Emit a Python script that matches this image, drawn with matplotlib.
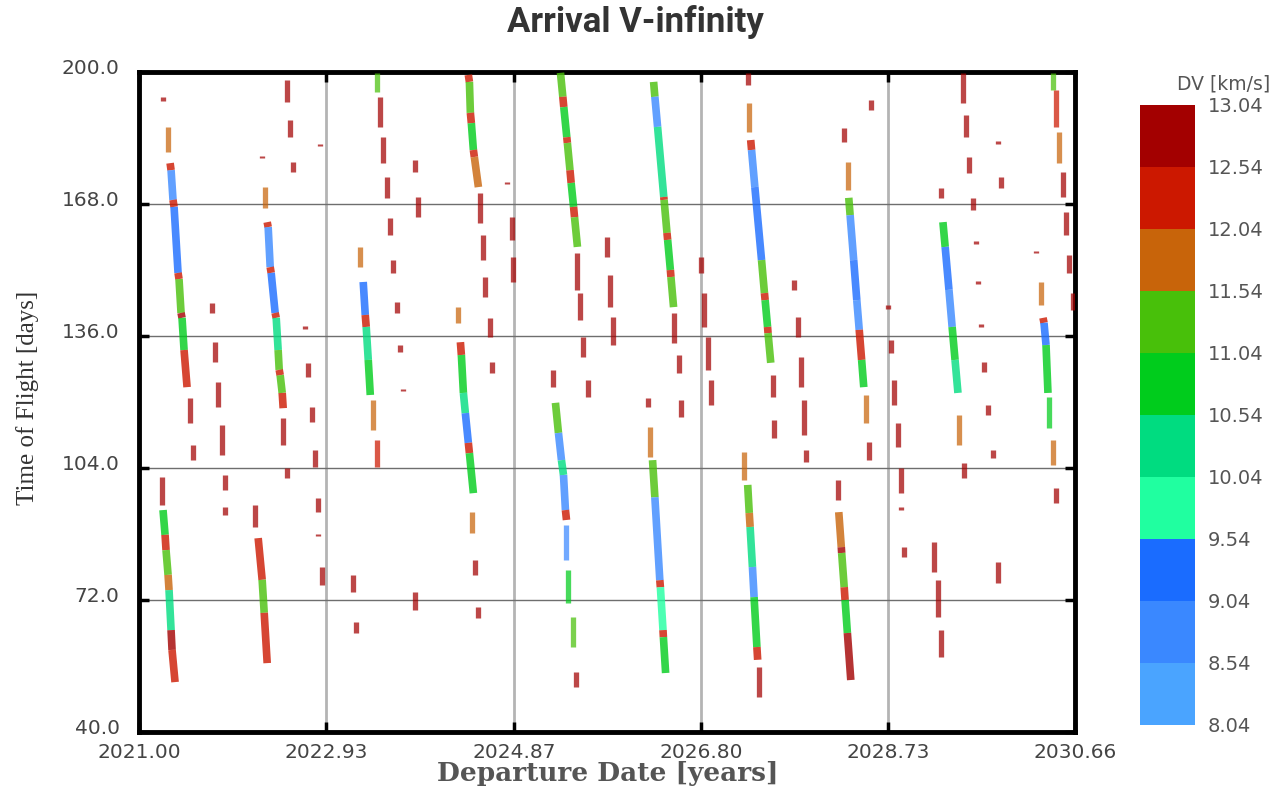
import matplotlib.pyplot as plt
import numpy as np
from matplotlib.collections import LineCollection
from matplotlib.colors import ListedColormap, BoundaryNorm
from matplotlib.cm import ScalarMappable
from matplotlib.transforms import ScaledTranslation


# colour scale of the DV values
dv_levels = [8.04, 8.54, 9.04, 9.54, 10.04, 10.54, 11.04, 11.54, 12.04, 12.54, 13.04]
dv_colors = ['#4aa4ff', '#3a88ff', '#1a6cff', '#20ffa0', '#00dc80',
             '#00cc1c', '#48c00a', '#c8640a', '#cc1800', '#a30000']

x_ticks = [2021.00, 2022.93, 2024.87, 2026.80, 2028.73, 2030.66]
y_ticks = [40.0, 72.0, 104.0, 136.0, 168.0, 200.0]

# continuous coloured bands: nodes (departure, tof) and one DV per piece
streak_dep = [
    [2021.321, 2021.331, 2021.351, 2021.362, 2021.403, 2021.413, 2021.434, 2021.444, 2021.465, 2021.496],
    [2021.248, 2021.269, 2021.279, 2021.300, 2021.310, 2021.331, 2021.341, 2021.372],
    [2022.323, 2022.333, 2022.354, 2022.364, 2022.405, 2022.416, 2022.436, 2022.447, 2022.457, 2022.478, 2022.488],
    [2022.230, 2022.271, 2022.292, 2022.323],
    [2023.314, 2023.335, 2023.345, 2023.366, 2023.387],
    [2024.399, 2024.410, 2024.420, 2024.430, 2024.451, 2024.461, 2024.503],
    [2024.317, 2024.327, 2024.348, 2024.368, 2024.399, 2024.410, 2024.451],
    [2025.350, 2025.374, 2025.384, 2025.415, 2025.421, 2025.448, 2025.460, 2025.485, 2025.495, 2025.525],
    [2025.298, 2025.329, 2025.360, 2025.381, 2025.401, 2025.412],
    [2026.311, 2026.324, 2026.352, 2026.416, 2026.419, 2026.449, 2026.456, 2026.484, 2026.490, 2026.517],
    [2026.300, 2026.324, 2026.375, 2026.381, 2026.408, 2026.412, 2026.435],
    [2027.313, 2027.322, 2027.356, 2027.425, 2027.455, 2027.462, 2027.487, 2027.492, 2027.520],
    [2027.282, 2027.298, 2027.307, 2027.331, 2027.348, 2027.377, 2027.385],
    [2028.325, 2028.339, 2028.376, 2028.408, 2028.433, 2028.458, 2028.480],
    [2028.222, 2028.248, 2028.252, 2028.278, 2028.287, 2028.311, 2028.346],
    [2029.297, 2029.320, 2029.359, 2029.392, 2029.422, 2029.452],
    [2030.330, 2030.340, 2030.361, 2030.381],
]
streak_tof = [
    [177.9, 176.2, 169.0, 167.3, 151.3, 149.8, 141.6, 140.4, 132.6, 123.6],
    [93.8, 87.8, 84.1, 78.1, 74.4, 64.7, 59.9, 52.1],
    [163.6, 162.4, 152.7, 151.3, 141.6, 140.4, 132.6, 127.8, 126.5, 122.2, 118.5],
    [87.0, 76.9, 68.9, 56.7],
    [149.1, 141.1, 138.2, 130.2, 121.7],
    [199.3, 197.6, 190.1, 187.6, 181.1, 179.4, 172.1],
    [134.5, 131.4, 122.2, 117.3, 110.1, 107.6, 97.9],
    [199.8, 194.0, 191.5, 184.2, 182.8, 176.2, 173.1, 167.3, 164.8, 157.6],
    [119.8, 112.5, 105.9, 102.3, 93.8, 91.4],
    [197.6, 194.0, 186.7, 169.7, 169.0, 161.0, 159.3, 152.0, 150.3, 143.0],
    [105.9, 96.9, 76.8, 75.1, 64.7, 63.0, 54.3],
    [183.5, 181.1, 172.1, 154.4, 146.4, 144.7, 138.2, 136.7, 129.5],
    [99.9, 93.1, 89.7, 80.0, 72.7, 60.6, 57.5],
    [169.5, 165.3, 154.4, 144.7, 137.5, 130.2, 123.6],
    [93.3, 84.8, 83.4, 75.1, 72.0, 64.0, 52.6],
    [163.6, 157.6, 147.2, 138.2, 130.2, 122.2],
    [140.4, 139.2, 133.8, 122.2],
]
streak_dv = [
    [12.3, 8.8, 12.3, 9.3, 12.3, 11.3, 12.8, 10.8, 12.3],
    [10.8, 12.3, 11.3, 11.8, 10.3, 12.8, 12.3],
    [12.3, 8.8, 12.3, 9.3, 12.3, 10.3, 11.3, 12.3, 11.3, 12.3],
    [12.3, 11.3, 12.5],
    [9.3, 12.3, 10.3, 10.8],
    [12.3, 11.3, 12.3, 10.8, 12.3, 11.6],
    [12.3, 10.8, 10.3, 9.3, 12.3, 11.0],
    [11.3, 12.3, 10.8, 12.3, 11.3, 12.3, 10.8, 12.3, 11.3],
    [11.3, 8.8, 10.3, 8.8, 12.3],
    [11.3, 8.8, 10.3, 12.3, 11.3, 12.3, 10.8, 12.3, 11.3],
    [11.3, 8.8, 12.3, 9.8, 12.3, 11.0],
    [12.3, 8.8, 9.3, 11.3, 12.3, 10.8, 12.3, 11.3],
    [11.3, 11.8, 10.3, 8.8, 10.8, 12.3],
    [11.3, 8.8, 9.3, 8.8, 12.3, 10.8],
    [12.0, 12.6, 11.3, 12.3, 11.0, 12.6],
    [11.0, 9.3, 8.8, 10.8, 10.3],
    [12.3, 9.3, 10.8],
]

# isolated short dashes: departure, tof top, tof bottom, DV
dash_dep = [
    2021.248, 2021.238, 2021.300, 2021.527, 2021.558, 2021.754, 2021.785, 2021.816, 2021.858, 2021.889,
    2021.889, 2022.199, 2022.271, 2022.302, 2022.529, 2022.560, 2022.591, 2022.488, 2022.529, 2022.870,
    2022.715, 2022.746, 2022.787, 2022.818, 2022.849, 2022.849, 2022.891, 2023.211, 2023.242, 2023.283,
    2023.418, 2023.459, 2023.459, 2023.490, 2023.521, 2023.562, 2023.593, 2023.624, 2023.666, 2023.697,
    2023.728, 2023.852, 2023.883, 2023.852, 2024.296, 2024.441, 2024.472, 2024.503, 2024.523, 2024.554,
    2024.575, 2024.627, 2024.647, 2024.802, 2024.854, 2024.864, 2025.525, 2025.556, 2025.587, 2025.629,
    2025.277, 2025.412, 2025.432, 2025.474, 2025.505, 2025.835, 2025.866, 2025.887, 2026.517, 2026.569,
    2026.249, 2026.270, 2026.590, 2026.796, 2026.827, 2026.869, 2026.900, 2027.282, 2027.292, 2027.540,
    2027.551, 2027.241, 2027.395, 2027.757, 2027.798, 2027.830, 2027.860, 2027.881, 2028.274, 2028.315,
    2028.501, 2028.532, 2028.212, 2028.553, 2028.728, 2028.759, 2028.790, 2028.831, 2028.863, 2028.863,
    2028.894, 2029.276, 2029.462, 2029.514, 2029.204, 2029.245, 2029.276, 2029.503, 2029.534, 2029.565,
    2029.607, 2029.638, 2029.658, 2029.689, 2029.720, 2029.865, 2029.896, 2029.761, 2029.813, 2029.865,
    2030.257, 2030.309, 2030.392, 2030.433, 2030.464, 2030.433, 2030.464, 2030.495, 2030.536, 2030.567,
    2030.598, 2030.640,
]
dash_tof_top = [
    193.9, 101.8, 186.7, 121.0, 109.6, 144.0, 134.5, 124.8, 114.4, 102.3,
    94.5, 95.0, 179.6, 172.1, 198.1, 188.4, 178.2, 116.1, 104.0, 182.6,
    138.5, 129.5, 118.8, 108.4, 96.7, 87.9, 80.0, 78.1, 66.7, 157.6,
    120.5, 110.8, 199.8, 193.9, 184.2, 174.5, 164.6, 154.4, 144.2, 133.8,
    123.1, 178.7, 169.7, 73.9, 143.0, 93.3, 81.7, 70.3, 170.7, 160.5,
    150.3, 140.4, 129.7, 173.3, 164.8, 155.2, 156.1, 146.4, 135.8, 125.3,
    127.8, 90.2, 79.3, 67.9, 54.5, 160.0, 150.8, 140.6, 141.6, 131.4,
    121.0, 113.9, 120.5, 155.2, 146.4, 135.8, 125.3, 199.8, 192.5, 126.5,
    115.6, 107.9, 55.8, 149.6, 140.6, 130.9, 120.5, 108.4, 186.4, 178.2,
    121.7, 110.3, 101.1, 193.2, 143.5, 135.0, 125.3, 114.9, 104.0, 94.6,
    84.8, 171.9, 116.8, 105.2, 86.1, 76.9, 64.7, 199.8, 189.6, 179.4,
    169.5, 159.0, 149.3, 139.0, 129.7, 183.3, 174.5, 119.3, 108.4, 81.2,
    156.6, 149.1, 121.2, 110.8, 99.2, 199.8, 195.6, 185.5, 175.8, 166.1,
    155.6, 146.4,
]
dash_tof_bot = [
    192.9, 95.0, 180.6, 114.9, 105.9, 141.6, 129.7, 118.8, 107.2, 98.7,
    92.6, 89.7, 179.2, 167.0, 192.7, 184.2, 175.8, 109.6, 101.6, 182.0,
    137.7, 126.1, 115.2, 104.2, 93.3, 87.4, 75.6, 73.9, 64.0, 152.7,
    113.2, 104.2, 195.2, 186.7, 177.9, 169.5, 160.5, 151.3, 141.6, 132.1,
    122.6, 175.8, 164.8, 69.6, 139.2, 88.2, 78.1, 67.6, 163.4, 154.4,
    145.5, 135.8, 127.0, 172.8, 159.3, 149.1, 147.2, 139.9, 130.9, 121.2,
    123.6, 81.7, 71.3, 60.6, 50.9, 155.2, 143.0, 133.8, 134.3, 127.0,
    118.8, 106.7, 116.4, 151.3, 138.2, 127.8, 119.3, 196.8, 185.5, 121.2,
    111.3, 101.1, 48.5, 147.2, 135.8, 123.6, 112.0, 105.5, 183.0, 171.4,
    114.9, 105.9, 96.2, 190.8, 142.5, 131.9, 119.3, 109.1, 97.9, 93.8,
    82.4, 169.5, 109.6, 101.6, 78.8, 67.9, 58.2, 192.5, 184.2, 175.5,
    166.5, 158.3, 148.6, 138.3, 127.3, 182.6, 171.9, 116.8, 106.4, 76.1,
    156.1, 143.5, 113.7, 104.7, 95.5, 195.6, 186.7, 177.9, 169.7, 160.5,
    151.3, 142.3,
]
dash_dv = [
    12.8, 12.8, 11.8, 12.8, 12.8, 12.8, 12.8, 12.8, 12.8, 12.8,
    12.8, 12.8, 12.8, 11.6, 12.8, 12.8, 12.8, 12.8, 12.8, 12.8,
    12.8, 12.8, 12.8, 12.8, 12.8, 12.8, 12.8, 12.8, 12.8, 11.8,
    11.6, 12.5, 11.3, 12.8, 12.8, 12.8, 12.8, 12.8, 12.8, 12.8,
    12.8, 12.8, 12.8, 12.8, 11.8, 11.6, 12.6, 12.6, 12.8, 12.8,
    12.8, 12.8, 12.8, 12.8, 12.8, 12.8, 12.8, 12.8, 12.8, 12.8,
    12.6, 9.0, 10.8, 11.3, 12.6, 12.8, 12.8, 12.8, 12.8, 12.8,
    12.8, 11.9, 12.8, 12.8, 12.8, 12.8, 12.8, 12.8, 11.6, 12.8,
    12.8, 11.8, 12.8, 12.8, 12.8, 12.8, 12.8, 12.8, 12.8, 11.6,
    11.8, 12.8, 12.8, 12.8, 12.8, 12.8, 12.8, 12.8, 12.8, 12.8,
    12.8, 12.8, 11.8, 12.8, 12.8, 12.8, 12.8, 12.8, 12.8, 12.8,
    12.8, 12.8, 12.8, 12.8, 12.8, 12.8, 12.8, 12.8, 12.8, 12.8,
    12.8, 11.6, 10.8, 11.9, 12.8, 11.3, 12.2, 11.9, 12.6, 12.6,
    12.8, 12.8,
]

cmap = ListedColormap(dv_colors)
norm = BoundaryNorm(dv_levels, cmap.N)

fig = plt.figure(figsize=(12.84, 7.87), dpi=100)
ax = fig.add_axes([139/1284, 55/787, 936/1284, 660/787])

# coloured bands
segs, seg_dv = [], []
for dep, tof, dv in zip(streak_dep, streak_tof, streak_dv):
    for i in range(len(dv)):
        segs.append([(dep[i], tof[i]), (dep[i+1], tof[i+1])])
        seg_dv.append(dv[i])
ax.add_collection(LineCollection(segs, colors=cmap(norm(seg_dv)), linewidths=5.5,
                                 capstyle='butt', alpha=0.8, zorder=3))

# short dashes
dsegs = [[(d, t0), (d, t1)] for d, t0, t1 in zip(dash_dep, dash_tof_top, dash_tof_bot)]
ax.add_collection(LineCollection(dsegs, colors=cmap(norm(dash_dv)), linewidths=3.8,
                                 capstyle='butt', alpha=0.72, zorder=3))

ax.set_xlim(x_ticks[0], x_ticks[-1])
ax.set_ylim(y_ticks[0], y_ticks[-1])
ax.set_xticks(x_ticks)
ax.set_xticklabels(['%.2f' % t for t in x_ticks])
ax.set_yticks(y_ticks)
ax.set_yticklabels(['%.1f' % t for t in y_ticks])

ax.set_axisbelow(True)
ax.xaxis.grid(True, color='#b4b4b4', linewidth=2)
ax.yaxis.grid(True, color='#6e6e6e', linewidth=1)
for s in ax.spines.values():
    s.set_linewidth(3.5)
    s.set_color('black')
ax.tick_params(direction='in', length=7, width=2.5, top=True, right=True,
               labelsize=14.5, labelcolor='#444444')
ax.tick_params(axis='x', pad=8)
ax.tick_params(axis='y', pad=14)
# y labels sit a little above their tick in the original
for lab in ax.get_yticklabels():
    lab.set_transform(lab.get_transform() + ScaledTranslation(0, 4/72, fig.dpi_scale_trans))

# colour bar
cax = fig.add_axes([1140/1284, 62/787, 55/1284, 620/787])
cb = fig.colorbar(ScalarMappable(norm=norm, cmap=cmap), cax=cax, ticks=dv_levels)
cb.set_ticklabels(['%.2f' % v for v in dv_levels])
cb.outline.set_visible(False)
cax.tick_params(length=0, labelsize=14, labelcolor='#555555', pad=9)
fig.text(1270/1284, 1 - 84/787, 'DV [km/s]', ha='right', va='center', fontsize=13.5, color='#555555')

fig.text(635/1284, 1 - 22/787, 'Arrival V-infinity', ha='center', va='center',
         fontsize=25, fontweight='bold', family='Roboto', color='#333333')
fig.text(608/1284, 1 - 773/787, 'Departure Date [years]', ha='center', va='center',
         fontsize=19, fontweight='bold', family='DejaVu Serif', color='#555555')
fig.text(28/1284, 1 - 398/787, 'Time of Flight [days]', ha='center', va='center', rotation=90,
         fontsize=18, family='Liberation Serif', color='#333333')

plt.savefig('out.png', dpi=100)
